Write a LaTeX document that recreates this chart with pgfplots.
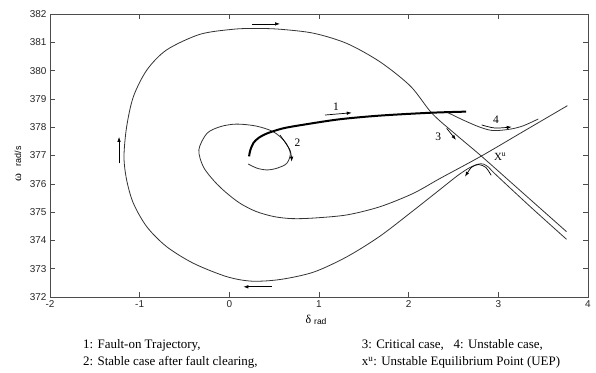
\documentclass[border=0pt]{standalone}
\usepackage{fontspec}
\setmainfont{Liberation Serif}
\newfontfamily\arial{Liberation Sans}
\usepackage{pgfplots}
\pgfplotsset{compat=1.18}
\usetikzlibrary{arrows.meta}
\begin{document}
\begin{tikzpicture}[x=1bp,y=1bp]
\path[use as bounding box] (0,0) rectangle (596,372);
\begin{axis}[at={(50bp,75bp)}, anchor=south west, scale only axis,
  width=538bp, height=283bp,
  xmin=-2, xmax=4, ymin=372, ymax=382,
  xtick={-2,-1,0,1,2,3,4}, ytick={372,373,374,375,376,377,378,379,380,381,382},
  tick align=inside, major tick length=5bp,
  axis line style={black!70, line width=0.9bp},
  tick style={black!70, line width=0.6bp},
  /pgf/number format/assume math mode=true,
  /pgf/number format/1000 sep={},
  tick label style={font=\arial\fontsize{10}{12}\selectfont, text=black!85},
  clip=false]
% unstable manifold of UEP spiralling to SEP
\addplot[smooth, black!80, line width=0.8bp] coordinates {
(3.77,378.76) (3.29,377.87) (2.81,376.98) (2.35,376.19) (2.05,375.66) (1.68,375.19)
(1.31,374.90) (0.94,374.79) (0.70,374.77) (0.50,374.84) (0.30,375.02) (0.12,375.31)
(-0.04,375.70) (-0.17,376.10) (-0.29,376.60) (-0.34,377.20) (-0.25,377.78) (-0.10,378.02)
(0.08,378.11) (0.30,378.04) (0.49,377.84) (0.62,377.49) (0.68,377.08) (0.64,376.72)
(0.53,376.55) (0.42,376.49) (0.31,376.55) (0.21,376.70)};
% big outer loop (separatrix / critical case)
\addplot[smooth, black!80, line width=0.8bp] coordinates {
(3.76,374.31) (3.285,375.645) (2.81,376.98) (2.53,377.73) (2.26,378.49) (2.02,379.45)
(1.68,380.31) (1.31,380.96) (0.94,381.32) (0.57,381.46) (0.30,381.49) (0.04,381.46)
(-0.33,381.28) (-0.70,380.73) (-0.92,380.02) (-1.07,379.08) (-1.145,378.02) (-1.175,376.96)
(-1.145,376.13) (-1.07,375.31) (-0.92,374.48) (-0.70,373.78) (-0.40,373.19) (-0.03,372.72)
(0.25,372.56) (0.57,372.62) (0.94,372.88) (1.31,373.42) (1.68,374.15)
(2.05,375.05) (2.33,375.75) (2.55,376.30) (2.68,376.57) (2.77,376.69) (2.83,376.70)
(2.89,376.59) (2.96,376.36) (3.35,375.21) (3.76,374.04)};
% fault-on trajectory (thick)
\addplot[smooth, black, line width=2bp] coordinates {
(0.22,376.97) (0.235,377.2) (0.27,377.45) (0.33,377.63) (0.42,377.78) (0.6,377.96)
(0.85,378.1) (1.23,378.28) (1.68,378.41) (2.24,378.51) (2.64,378.55)};
% unstable case
\addplot[smooth, black!80, line width=0.8bp] coordinates {
(2.44,378.51) (2.61,378.25) (2.795,378.0) (2.944,377.88) (3.13,377.93) (3.278,378.05) (3.445,378.29)};
% direction arrows
\addplot[black, line width=0.7bp, -{Latex[length=5bp,width=3.5bp]}] coordinates {(0.25,381.65) (0.565,381.65)};
\addplot[black, line width=0.7bp, -{Latex[length=5bp,width=3.5bp]}] coordinates {(-1.23,376.72) (-1.23,377.66)};
\addplot[black, line width=0.7bp, -{Latex[length=5bp,width=3.5bp]}] coordinates {(0.472,372.36) (0.156,372.36)};
\addplot[black, line width=0.7bp, -{Latex[length=5bp,width=3.5bp]}] coordinates {(1.067,378.43) (1.365,378.51)};
\addplot[smooth, black, line width=0.7bp, -{Latex[length=5bp,width=3.5bp]}] coordinates {(0.565,377.72) (0.676,377.19) (0.695,376.78)};
\addplot[black, line width=0.7bp, -{Latex[length=5bp,width=3.5bp]}] coordinates {(2.424,377.96) (2.528,377.55)};
\addplot[smooth, black, line width=0.7bp, -{Latex[length=5bp,width=3.5bp]}] coordinates {(2.814,378.08) (2.963,377.97) (3.149,378.01)};
\addplot[smooth, black, line width=0.7bp, -{Latex[length=5bp,width=3.5bp]}] coordinates {(2.92,376.30) (2.86,376.58) (2.78,376.68) (2.70,376.58) (2.628,376.25)};
% labels
\node[font=\fontsize{11.5}{13}\selectfont] at (axis cs:1.19,378.74) {1};
\node[font=\fontsize{11.5}{13}\selectfont] at (axis cs:0.76,377.45) {2};
\node[font=\fontsize{11.5}{13}\selectfont] at (axis cs:2.33,377.66) {3};
\node[font=\fontsize{11.5}{13}\selectfont] at (axis cs:2.974,378.25) {4};
\node[font=\fontsize{11}{13}\selectfont] at (axis cs:3.02,376.95) {X$^{\mathrm{u}}$};
\end{axis}
% axis labels
\node[rotate=90] at (18,208) {{\fontsize{12}{14}\selectfont ω}\hspace{8bp}{\arial\fontsize{9}{11}\selectfont rad/s}};
\node at (316,52) {{\fontsize{12}{14}\selectfont δ}\hspace{3bp}\raisebox{-1.5bp}{\arial\fontsize{8.5}{10}\selectfont rad}};
% caption
\node[anchor=west, font=\fontsize{13}{15}\selectfont, inner sep=0pt] at (83,27) {1: Fault-on Trajectory,};
\node[anchor=west, font=\fontsize{13}{15}\selectfont, inner sep=0pt] at (83,9.3) {2: Stable case after fault clearing,};
\node[anchor=west, font=\fontsize{13}{15}\selectfont, inner sep=0pt] at (361.7,27) {3: Critical case,\ \ \ 4: Unstable case,};
\node[anchor=west, font=\fontsize{13}{15}\selectfont, inner sep=0pt] at (361.7,9.3) {x$^{\mathrm{u}}$: Unstable Equilibrium Point (UEP)};
\end{tikzpicture}
\end{document}
